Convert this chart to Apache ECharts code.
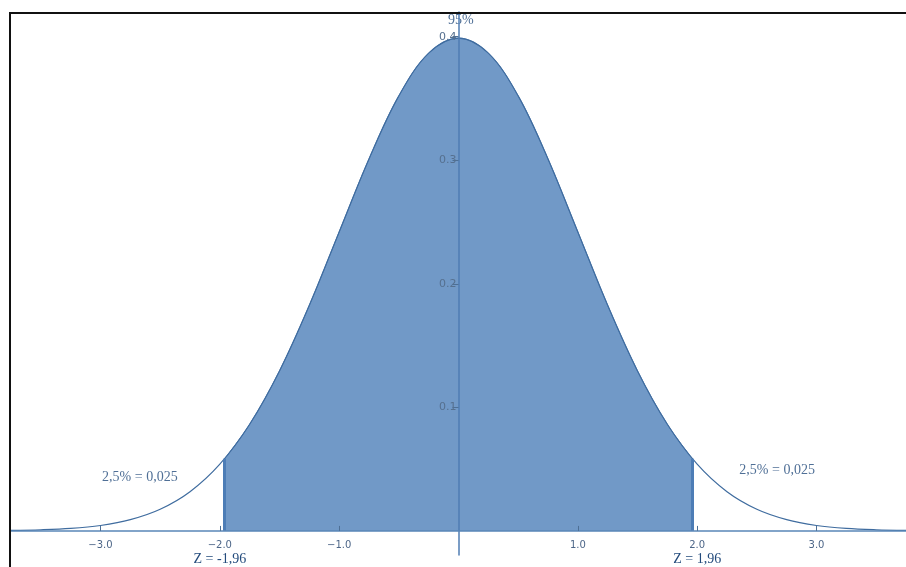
<!DOCTYPE html>
<html>
<head>
<meta charset="utf-8">
<script src="https://cdn.jsdelivr.net/npm/echarts@6/dist/echarts.min.js"></script>
<style>html,body{margin:0;padding:0;background:#fff}#c{width:906px;height:567px}</style>
</head>
<body>
<div id="c"></div>
<script>
// Standard normal curve
const curveX = [-3.75,-3.5,-3.25,-3.0,-2.75,-2.5,-2.25,-2.0,-1.75,-1.5,-1.25,-1.0,-0.75,-0.5,-0.25,0,0.25,0.5,0.75,1.0,1.25,1.5,1.75,2.0,2.25,2.5,2.75,3.0,3.25,3.5,3.75];
const curveY = [0.0004,0.0009,0.0020,0.0044,0.0091,0.0175,0.0317,0.0540,0.0863,0.1295,0.1826,0.2420,0.3011,0.3521,0.3867,0.3989,0.3867,0.3521,0.3011,0.2420,0.1826,0.1295,0.0863,0.0540,0.0317,0.0175,0.0091,0.0044,0.0020,0.0009,0.0004];
// Shaded central 95% region
const shadeX = [-1.96,-1.75,-1.5,-1.25,-1.0,-0.75,-0.5,-0.25,0,0.25,0.5,0.75,1.0,1.25,1.5,1.75,1.96];
const shadeY = [0.0584,0.0863,0.1295,0.1826,0.2420,0.3011,0.3521,0.3867,0.3989,0.3867,0.3521,0.3011,0.2420,0.1826,0.1295,0.0863,0.0584];
const critical = [-1.96, 1.96];
const critLabels = ['Z = -1,96', 'Z = 1,96'];
const xTicks = [-3, -2, -1, 1, 2, 3];
const yTicks = [0.1, 0.2, 0.3, 0.4];
const notes = [
  {x: -2.67, y: 0.0437, text: '2,5% = 0,025'},
  {x: 2.67, y: 0.0494, text: '2,5% = 0,025'},
  {x: 0.02, y: 0.4135, text: '95%'}
];

const W = 906, H = 567;
const G = {left: 11, right: 0, top: 12, bottom: 12};
const X_MIN = -3.75, X_MAX = 3.75, Y_MIN = -0.0195, Y_MAX = 0.42;
// axes crossing at zero: offsets from the grid edges
const plotW = W - G.left - G.right, plotH = H - G.top - G.bottom;
const yAxisOffset = -(0 - X_MIN) / (X_MAX - X_MIN) * plotW;
const xAxisOffset = -(0 - Y_MIN) / (Y_MAX - Y_MIN) * plotH;

const blue = '#4f7db3';
const chart = echarts.init(document.getElementById('c'), null, {renderer: 'canvas'});
chart.setOption({
  animation: false,
  backgroundColor: '#ffffff',
  grid: Object.assign({containLabel: false, outerBoundsMode: 'none'}, G),
  xAxis: {
    type: 'value', min: X_MIN, max: X_MAX, position: 'bottom', offset: xAxisOffset, z: 10,
    axisLine: {onZero: false, lineStyle: {color: '#5a86b8', width: 1.5}},
    axisTick: {inside: true, length: 5, customValues: xTicks, lineStyle: {color: '#4d6f95'}},
    splitLine: {show: false},
    axisLabel: {
      customValues: xTicks, margin: 8,
      fontFamily: 'DejaVu Sans', fontSize: 10, color: '#4d6688', lineHeight: 13,
      formatter: function (v) {
        const s = v.toFixed(1).replace('-', '\u2212');
        const i = critical.findIndex(c => Math.round(c) === v);
        return i >= 0 ? s + '\n{z|' + critLabels[i] + '}' : s;
      },
      rich: {z: {fontFamily: 'Liberation Serif', fontSize: 14, color: '#234b7c', lineHeight: 14}}
    }
  },
  yAxis: {
    type: 'value', min: Y_MIN, max: Y_MAX, position: 'left', offset: yAxisOffset, z: 10,
    axisLine: {onZero: false, lineStyle: {color: '#4f7db3', width: 1.5}},
    axisTick: {customValues: yTicks, length: 6, lineStyle: {color: '#4d6f95'}},
    splitLine: {show: false},
    axisLabel: {
      customValues: yTicks, margin: 2,
      fontFamily: 'DejaVu Sans', fontSize: 11, color: '#56708f',
      formatter: v => v.toFixed(1)
    }
  },
  series: [
    {
      type: 'line', name: 'shade', smooth: 0.35, symbol: 'none',
      data: shadeX.map((x, i) => [x, shadeY[i]]),
      lineStyle: {color: blue, width: 1},
      areaStyle: {color: '#7199c7', opacity: 1},
      markLine: {
        silent: true, symbol: 'none', label: {show: false},
        lineStyle: {color: '#4d7db6', width: 3, type: 'solid'},
        data: critical.map((c, i) => [{coord: [c, 0]}, {coord: [c, shadeY[i === 0 ? 0 : shadeY.length - 1]]}])
      },
      z: 2
    },
    {
      type: 'line', name: 'curve', smooth: 0.35, symbol: 'none',
      data: curveX.map((x, i) => [x, curveY[i]]),
      lineStyle: {color: '#3f6c9f', width: 1.2},
      z: 3
    },
    {
      type: 'scatter', symbolSize: 0, silent: true,
      data: notes.map(n => ({value: [n.x, n.y], label: {formatter: n.text}})),
      label: {show: true, position: 'inside', fontFamily: 'Liberation Serif', fontSize: 14, color: '#234b7c'},
      z: 5
    }
  ],
  graphic: [
    {type: 'line', shape: {x1: 10, y1: 12, x2: 10, y2: 567}, style: {stroke: '#111', lineWidth: 2}, z: 100},
    {type: 'line', shape: {x1: 9, y1: 13, x2: 906, y2: 13}, style: {stroke: '#111', lineWidth: 2}, z: 100}
  ]
});
</script>
</body>
</html>
